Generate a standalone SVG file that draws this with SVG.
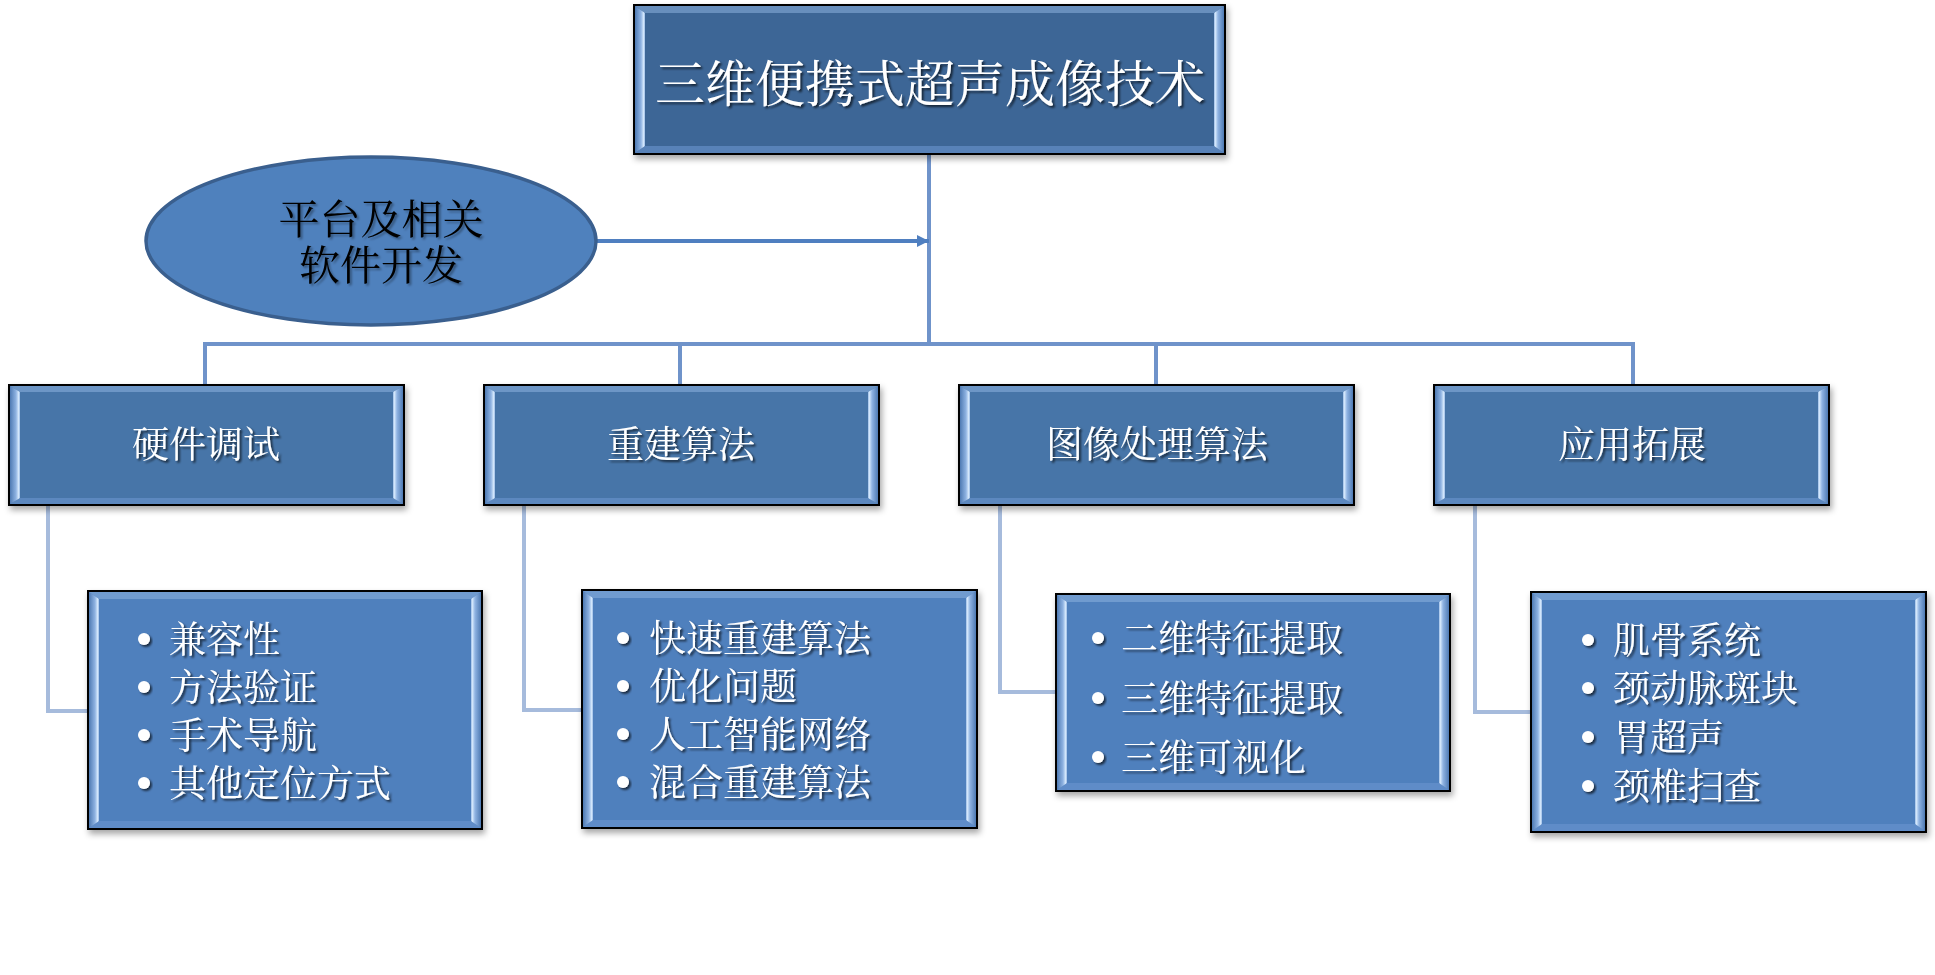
<svg xmlns="http://www.w3.org/2000/svg" width="1935" height="975" viewBox="0 0 1935 975">
<style>
.t{font-family:"Noto Serif CJK SC","Noto Sans CJK SC","Liberation Serif",serif;fill:#fff;dominant-baseline:central;filter:url(#ts)}
.c{text-anchor:middle}
.blk{fill:#000;filter:url(#tsg)}
.bus{fill:none;stroke:#6F93CA;stroke-width:4}
.sub{fill:none;stroke:#A6BBDC;stroke-width:4}
.edge{stroke:#000;stroke-width:2}
.l{fill:url(#gl)}
.r{fill:url(#gr)}
.tp{fill:#8DB0DE;opacity:.55}
.bt{fill:#6A95CF;opacity:.6}
.k1{fill:#3D6696}
.k2{fill:#4674A8}
.k3{fill:#4F80BD}
.bul{fill:#fff;filter:url(#ts)}
</style>
<defs>
<filter id="ts" x="-10%" y="-20%" width="130%" height="150%"><feDropShadow dx="2" dy="2" stdDeviation="1.2" flood-color="#000" flood-opacity="0.65"/></filter>
<filter id="tsg" x="-10%" y="-20%" width="130%" height="150%"><feDropShadow dx="2" dy="2" stdDeviation="1.2" flood-color="#000" flood-opacity="0.35"/></filter>
<filter id="bs" x="-5%" y="-5%" width="115%" height="120%"><feDropShadow dx="2" dy="4" stdDeviation="3" flood-color="#000" flood-opacity="0.35"/></filter>
<linearGradient id="gl" x1="0" y1="0" x2="1" y2="0"><stop offset="0" stop-color="#4E7AB3"/><stop offset="0.6" stop-color="#8FB3E2"/><stop offset="0.85" stop-color="#D2E6FB"/><stop offset="1" stop-color="#9DBDE6"/></linearGradient>
<linearGradient id="gr" x1="1" y1="0" x2="0" y2="0"><stop offset="0" stop-color="#4E7AB3"/><stop offset="0.6" stop-color="#8FB3E2"/><stop offset="0.85" stop-color="#D2E6FB"/><stop offset="1" stop-color="#9DBDE6"/></linearGradient>
<marker id="ah" viewBox="0 0 10 10" refX="10" refY="5" markerWidth="3" markerHeight="3" orient="auto"><path d="M0,0 L10,5 L0,10 z" fill="#4F7FC0"/></marker>
</defs>

<g id="connectors">
<line class="bus" x1="929" y1="154" x2="929" y2="346"/>
<polyline class="bus" points="205,385 205,344 1633,344 1633,385"/>
<line class="bus" x1="680" y1="344" x2="680" y2="385"/>
<line class="bus" x1="1156" y1="344" x2="1156" y2="385"/>
<line x1="597" y1="241" x2="929" y2="241" stroke="#4F7FC0" stroke-width="4" marker-end="url(#ah)"/>
<polyline class="sub" points="48,505 48,711 88,711"/>
<polyline class="sub" points="524,505 524,710 582,710"/>
<polyline class="sub" points="1000,505 1000,692 1056,692"/>
<polyline class="sub" points="1475,505 1475,712 1531,712"/>
</g>

<g id="n-root">
<rect class="k1 edge" x="634" y="5" width="591" height="149" filter="url(#bs)"/>
<polygon class="tp" points="635,6 1224,6 1214,13 645,13"/>
<polygon class="bt" points="635,153 1224,153 1214,146 645,146"/>
<polygon class="l" points="635,6 645,13 645,146 635,153"/>
<polygon class="r" points="1224,6 1214,13 1214,146 1224,153"/>
<text class="t c" x="930" y="80" font-size="50">三维便携式超声成像技术</text>
</g>

<g id="n-platform">
<ellipse cx="371" cy="241" rx="225" ry="84" fill="#4F81BD" stroke="#3A5F8E" stroke-width="3.5"/>
<text class="t c blk" x="381" y="216" font-size="41">平台及相关</text>
<text class="t c blk" x="381" y="262" font-size="41">软件开发</text>
</g>

<g id="n-hw">
<rect class="k2 edge" x="9" y="385" width="395" height="120" filter="url(#bs)"/>
<polygon class="tp" points="10,386 403,386 393,392 20,392"/>
<polygon class="bt" points="10,504 403,504 393,498 20,498"/>
<polygon class="l" points="10,386 20,392 20,498 10,504"/>
<polygon class="r" points="403,386 393,392 393,498 403,504"/>
<text class="t c" x="206" y="442" font-size="37">硬件调试</text>
</g>

<g id="n-recon">
<rect class="k2 edge" x="484" y="385" width="395" height="120" filter="url(#bs)"/>
<polygon class="tp" points="485,386 878,386 868,392 495,392"/>
<polygon class="bt" points="485,504 878,504 868,498 495,498"/>
<polygon class="l" points="485,386 495,392 495,498 485,504"/>
<polygon class="r" points="878,386 868,392 868,498 878,504"/>
<text class="t c" x="681" y="442" font-size="37">重建算法</text>
</g>

<g id="n-img">
<rect class="k2 edge" x="959" y="385" width="395" height="120" filter="url(#bs)"/>
<polygon class="tp" points="960,386 1353,386 1343,392 970,392"/>
<polygon class="bt" points="960,504 1353,504 1343,498 970,498"/>
<polygon class="l" points="960,386 970,392 970,498 960,504"/>
<polygon class="r" points="1353,386 1343,392 1343,498 1353,504"/>
<text class="t c" x="1157" y="442" font-size="37">图像处理算法</text>
</g>

<g id="n-app">
<rect class="k2 edge" x="1434" y="385" width="395" height="120" filter="url(#bs)"/>
<polygon class="tp" points="1435,386 1828,386 1818,392 1445,392"/>
<polygon class="bt" points="1435,504 1828,504 1818,498 1445,498"/>
<polygon class="l" points="1435,386 1445,392 1445,498 1435,504"/>
<polygon class="r" points="1828,386 1818,392 1818,498 1828,504"/>
<text class="t c" x="1632" y="442" font-size="37">应用拓展</text>
</g>

<g id="n-hw-list">
<rect class="k3 edge" x="88" y="591" width="394" height="238" filter="url(#bs)"/>
<polygon class="tp" points="89,592 481,592 471,599 99,599"/>
<polygon class="bt" points="89,828 481,828 471,821 99,821"/>
<polygon class="l" points="89,592 99,599 99,821 89,828"/>
<polygon class="r" points="481,592 471,599 471,821 481,828"/>
<circle class="bul" cx="144" cy="639" r="6"/>
<circle class="bul" cx="144" cy="687" r="6"/>
<circle class="bul" cx="144" cy="735" r="6"/>
<circle class="bul" cx="144" cy="783" r="6"/>
<text class="t" x="169" y="637" font-size="37">兼容性</text>
<text class="t" x="169" y="685" font-size="37">方法验证</text>
<text class="t" x="169" y="733" font-size="37">手术导航</text>
<text class="t" x="169" y="781" font-size="37">其他定位方式</text>
</g>

<g id="n-recon-list">
<rect class="k3 edge" x="582" y="590" width="395" height="238" filter="url(#bs)"/>
<polygon class="tp" points="583,591 976,591 966,598 593,598"/>
<polygon class="bt" points="583,827 976,827 966,820 593,820"/>
<polygon class="l" points="583,591 593,598 593,820 583,827"/>
<polygon class="r" points="976,591 966,598 966,820 976,827"/>
<circle class="bul" cx="623" cy="638" r="6"/>
<circle class="bul" cx="623" cy="686" r="6"/>
<circle class="bul" cx="623" cy="734" r="6"/>
<circle class="bul" cx="623" cy="782" r="6"/>
<text class="t" x="649" y="636" font-size="37">快速重建算法</text>
<text class="t" x="649" y="684" font-size="37">优化问题</text>
<text class="t" x="649" y="732" font-size="37">人工智能网络</text>
<text class="t" x="649" y="780" font-size="37">混合重建算法</text>
</g>

<g id="n-img-list">
<rect class="k3 edge" x="1056" y="594" width="394" height="197" filter="url(#bs)"/>
<polygon class="tp" points="1057,595 1449,595 1439,602 1067,602"/>
<polygon class="bt" points="1057,790 1449,790 1439,783 1067,783"/>
<polygon class="l" points="1057,595 1067,602 1067,783 1057,790"/>
<polygon class="r" points="1449,595 1439,602 1439,783 1449,790"/>
<circle class="bul" cx="1098" cy="638" r="6"/>
<circle class="bul" cx="1098" cy="698" r="6"/>
<circle class="bul" cx="1098" cy="757" r="6"/>
<text class="t" x="1121" y="636" font-size="37">二维特征提取</text>
<text class="t" x="1121" y="696" font-size="37">三维特征提取</text>
<text class="t" x="1121" y="755" font-size="37">三维可视化</text>
</g>

<g id="n-app-list">
<rect class="k3 edge" x="1531" y="592" width="395" height="240" filter="url(#bs)"/>
<polygon class="tp" points="1532,593 1925,593 1915,600 1542,600"/>
<polygon class="bt" points="1532,831 1925,831 1915,824 1542,824"/>
<polygon class="l" points="1532,593 1542,600 1542,824 1532,831"/>
<polygon class="r" points="1925,593 1915,600 1915,824 1925,831"/>
<circle class="bul" cx="1588" cy="640" r="6"/>
<circle class="bul" cx="1588" cy="688" r="6"/>
<circle class="bul" cx="1588" cy="737" r="6"/>
<circle class="bul" cx="1588" cy="786" r="6"/>
<text class="t" x="1613" y="638" font-size="37">肌骨系统</text>
<text class="t" x="1613" y="686" font-size="37">颈动脉斑块</text>
<text class="t" x="1613" y="735" font-size="37">胃超声</text>
<text class="t" x="1613" y="784" font-size="37">颈椎扫查</text>
</g>
</svg>
